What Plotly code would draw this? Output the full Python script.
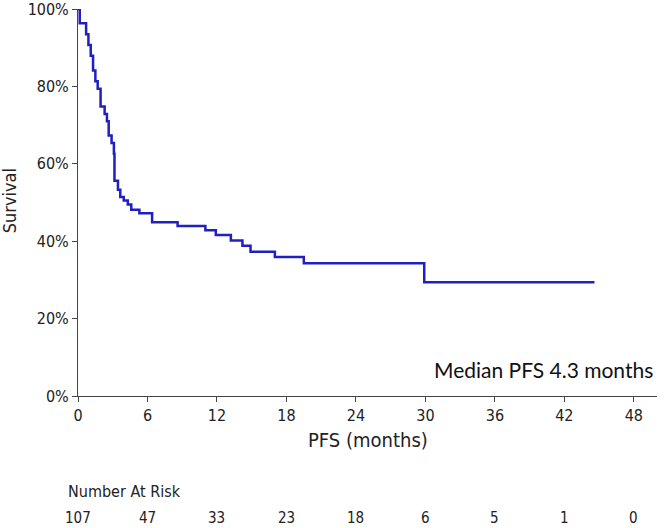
import plotly.graph_objects as go

# Kaplan-Meier step points (months, survival %)
times = [0, 0.15, 0.7, 0.9, 1.1, 1.3, 1.5, 1.7, 1.95, 2.3, 2.5, 2.65, 2.9, 3.1, 3.15,
         3.45, 3.65, 3.95, 4.3, 4.6, 5.3, 6.4, 8.6, 11.0, 11.9, 13.2, 14.2, 14.9,
         17.0, 19.5, 29.9, 44.6]
survival = [100, 96.3, 93.5, 90.7, 87.9, 84.1, 81.3, 79.4, 74.8, 72.9, 71.0, 67.3, 65.4,
            62.6, 55.6, 53.3, 51.4, 50.5, 49.5, 48.1, 47.2, 44.9, 43.9, 42.8, 41.6, 40.2,
            38.8, 37.3, 35.9, 34.3, 29.4, 29.4]

risk_times = [0, 6, 12, 18, 24, 30, 36, 42, 48]
risk_counts = [107, 47, 33, 23, 18, 6, 5, 1, 0]

x_ticks = [0, 6, 12, 18, 24, 30, 36, 42, 48]
y_ticks = [0, 20, 40, 60, 80, 100]
y_labels = ["0%", "20%", "40%", "60%", "80%", "100%"]

fig = go.Figure()
fig.add_trace(go.Scatter(
    x=times, y=survival, mode="lines", line_shape="hv",
    line=dict(color="#2020C0", width=2.5), showlegend=False, hoverinfo="skip"))

font = "Liberation Sans Narrow, DejaVu Sans Condensed, Arial, sans-serif"

fig.update_layout(
    width=664, height=528,
    margin=dict(l=78, r=7, t=9, b=132),
    plot_bgcolor="white", paper_bgcolor="white",
    font=dict(family=font, color="#222222", size=16),
    xaxis=dict(range=[0, 50], tickvals=x_ticks, ticks="outside", ticklen=5,
               tickcolor="#444444", showline=True, linecolor="#444444", linewidth=1,
               showgrid=False, zeroline=False, tickfont=dict(size=16), automargin=False,
               ticklabeloverflow="allow"),
    yaxis=dict(range=[0, 100], tickvals=y_ticks, ticktext=y_labels, ticks="outside",
               ticklen=5, tickcolor="#444444", showline=True, linecolor="#444444",
               linewidth=1, showgrid=False, zeroline=False, tickfont=dict(size=16),
               automargin=False, ticklabeloverflow="allow"),
)

annotations = [
    dict(text="Survival", x=-0.118, y=0.505, xref="paper", yref="paper",
         textangle=-90, showarrow=False, font=dict(size=18), xanchor="center",
         yanchor="middle"),
    dict(text="PFS (months)", x=0.5, y=-0.114, xref="paper", yref="paper",
         showarrow=False, font=dict(size=20), xanchor="center", yanchor="middle"),
    dict(text="Median PFS 4.3 months", x=0.997, y=0.068, xref="paper", yref="paper",
         showarrow=False, xanchor="right", yanchor="middle",
         font=dict(size=21, family="Lato, Carlito, Open Sans, sans-serif", color="#111111")),
    dict(text="Number At Risk", x=-0.021, y=-0.246, xref="paper", yref="paper",
         showarrow=False, xanchor="left", yanchor="middle", font=dict(size=16)),
]
for t, n in zip(risk_times, risk_counts):
    annotations.append(dict(text=str(n), x=t, y=-0.316, xref="x", yref="paper",
                            showarrow=False, xanchor="center", yanchor="middle",
                            font=dict(size=15)))
fig.update_layout(annotations=annotations)

fig.write_html("out.html", config={"displayModeBar": False},
               post_script="document.body.style.margin='0';")
